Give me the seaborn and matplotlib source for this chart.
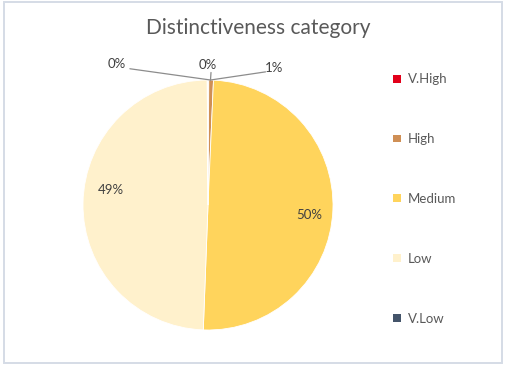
import matplotlib
matplotlib.use("Agg")
import matplotlib.pyplot as plt
from matplotlib.patches import Rectangle, Patch
import seaborn as sns

# Share of records per distinctiveness category (percent)
categories = ["V.High", "High", "Medium", "Low", "V.Low"]
shares = [0.1, 0.6, 49.9, 49.3, 0.1]
colors = ["#E2001A", "#CF8F55", "#FFD45C", "#FFF1CC", "#44546A"]

sns.set_style("white")
plt.rcParams["font.family"] = ["Lato", "DejaVu Sans"]

W, H = 509, 373
fig = plt.figure(figsize=(W / 100, H / 100), dpi=100)
fig.patch.set_facecolor("white")

# thin chart-area frame
fig.patches.append(Rectangle((4 / W, 10 / H), 498 / W, 361 / H, transform=fig.transFigure,
                             fill=False, edgecolor="#D5DCE6", linewidth=1.4))

cx, cy, r = 208, 205, 125
ax = fig.add_axes([(cx - r) / W, (H - cy - r) / H, 2 * r / W, 2 * r / H])
wedges, _ = ax.pie(shares, colors=colors, startangle=90, counterclock=False,
                   wedgeprops=dict(edgecolor="white", linewidth=0.6))
ax.set_xlim(-1, 1)
ax.set_ylim(-1, 1)
ax.set_aspect("equal")
ax.axis("off")

total = sum(shares)
labels = [f"{round(v / total * 100):.0f}%" for v in shares]

# label positions in pie units; small slices get leader lines
label_pos = {
    "V.High": (0.0, 1.12),
    "High": (0.53, 1.10),
    "Medium": (0.81, -0.08),
    "Low": (-0.78, 0.12),
    "V.Low": (-0.73, 1.13),
}
line_start = {
    "V.High": (0.024, 1.06),
    "High": (0.46, 1.065),
    "V.Low": (-0.625, 1.09),
}
txt_kw = dict(fontsize=9.5, color="#404040", ha="center", va="center")
for cat, lab in zip(categories, labels):
    x, y = label_pos[cat]
    ax.text(x, y, lab, **txt_kw)
    if cat in line_start:
        sx, sy = line_start[cat]
        ax.plot([sx, 0.02], [sy, 1.0], color="#8C8C8C", linewidth=0.9, clip_on=False)

fig.text(258 / W, 1 - 28 / H, "Distinctiveness category", ha="center", va="center",
         fontsize=15, color="#595959")

handles = [Patch(facecolor=c, edgecolor="none") for c in colors]
leg = fig.legend(handles, categories, loc="upper left",
                 bbox_to_anchor=(388 / W, 1 - 68 / H), frameon=False,
                 fontsize=9.5, labelcolor="#595959", handlelength=0.55,
                 handleheight=0.55, handletextpad=0.55, labelspacing=3.63,
                 borderaxespad=0)

fig.savefig("out.png", dpi=100, facecolor="white")
